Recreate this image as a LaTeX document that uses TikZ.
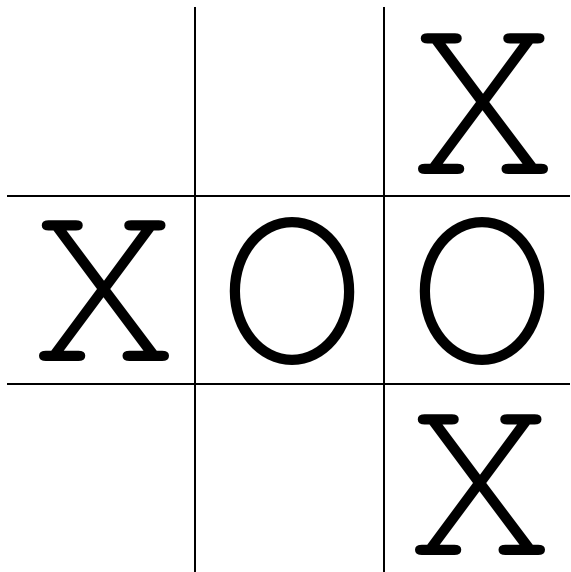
\documentclass[tikz,border=0pt]{standalone}
\usepackage{fontspec}
\newfontfamily\cursorfont{TeX Gyre Cursor}
\begin{document}
\begin{tikzpicture}[x=1pt,y=-1pt,
  gridline/.style={line width=2.6pt,black},
  glyph/.style={inner sep=0pt,anchor=base,font=\cursorfont\fontsize{250}{250}\selectfont}]
\useasboundingbox (0,0) rectangle (570,572);
\coordinate (v1t) at (195,7);   \coordinate (v1b) at (195,572);
\coordinate (v2t) at (384,7);   \coordinate (v2b) at (384,572);
\coordinate (h1l) at (7,196);   \coordinate (h1r) at (570,196);
\coordinate (h2l) at (7,384);   \coordinate (h2r) at (570,384);
\draw[gridline] (v1t) -- (v1b);
\draw[gridline] (v2t) -- (v2b);
\draw[gridline] (h1l) -- (h1r);
\draw[gridline] (h2l) -- (h2r);
\node[glyph] (tr) at (483,175) {X};
\node[glyph] (ml) at (104.6,361) {X};
\node[glyph] (mc) at (292,361) {O};
\node[glyph] (mr) at (482,361) {O};
\node[glyph] (br) at (480,555) {X};
\end{tikzpicture}
\end{document}
